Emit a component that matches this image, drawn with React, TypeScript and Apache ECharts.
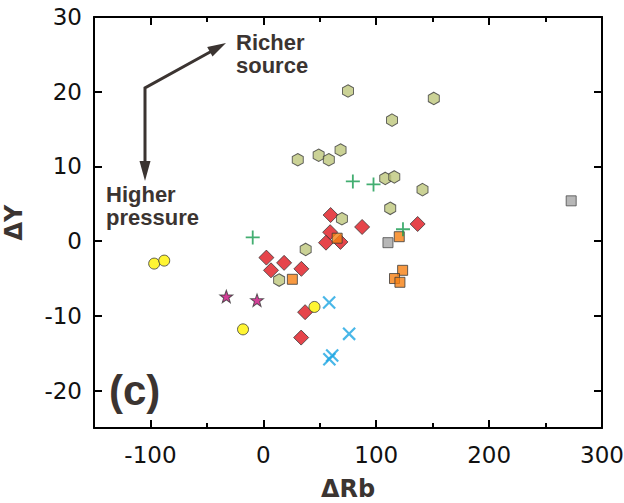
import React, { useEffect, useRef } from "react";
import * as echarts from "echarts";

// ---- data ----
const xTickValues = [-100, 0, 100, 200, 300];
const yTickValues = [-20, -10, 0, 10, 20, 30];

const hexagonPoints = [
  [75, 20.1], [151, 19.1], [114, 16.2], [30.5, 10.9], [49, 11.5], [58, 10.9],
  [68.4, 12.2], [108, 8.4], [116, 8.6], [141, 6.9], [112.4, 4.4], [69.6, 3.0],
  [37.5, -1.1], [14, -5.2],
];
const diamondPoints = [
  [59.6, 3.5], [87.5, 1.9], [59.2, 1.2], [55.5, -0.2], [68.3, -0.1], [136.7, 2.3],
  [2.7, -2.2], [18.4, -2.9], [6.8, -3.9], [33.7, -3.7], [37, -9.5], [33.5, -12.9],
];
const orangeSquarePoints = [
  [65.4, 0.4], [25.7, -5.1], [120.4, 0.6], [123.4, -3.9], [116.2, -5.0], [121, -5.5],
];
const graySquarePoints = [[110.4, -0.2], [272.7, 5.4]];
const yellowCirclePoints = [[-96.7, -3.0], [-87.8, -2.6], [-18, -11.8], [45.3, -8.8]];
const starPoints = [[-32.8, -7.4], [-5.6, -7.9]];
const plusPoints = [[-9.4, 0.5], [79.3, 8.0], [97.6, 7.6], [123.7, 1.6]];
const crossPoints = [[58.3, -8.2], [76, -12.4], [58.5, -15.8], [61, -15.3]];

const HEX = "path://M0,-10 L8.66,-5 L8.66,5 L0,10 L-8.66,5 L-8.66,-5 Z";
const STAR =
  "path://M0,-1 L0.235,-0.324 L0.951,-0.309 L0.38,0.124 L0.588,0.809 L0,0.4 L-0.588,0.809 L-0.38,0.124 L-0.951,-0.309 L-0.235,-0.324 Z";
const PLUS =
  "path://M-0.13,-1 H0.13 V-0.13 H1 V0.13 H0.13 V1 H-0.13 V0.13 H-1 V-0.13 H-0.13 Z";

const DARK = "#3b3431";
const EDGE = "#3a3a3a";
const NUM_FONT = "DejaVu Sans";

const ls = () => ({ color: "#000", width: 2 });

export default function App() {
  const ref = useRef<HTMLDivElement>(null);
  useEffect(() => {
    if (!ref.current) return;
    const chart = echarts.init(ref.current, undefined, { renderer: "svg" });
    const baseX = { type: "value", min: -150, max: 300, interval: 50, splitLine: { show: false }, gridIndex: 0 };
    const baseY = { type: "value", min: -25, max: 30, interval: 5, splitLine: { show: false }, gridIndex: 0 };
    const sc = (name: string, data: number[][], extra: any) => ({
      type: "scatter",
      name,
      data,
      xAxisIndex: 0,
      yAxisIndex: 0,
      ...extra,
    });
    chart.setOption({
      animation: false,
      backgroundColor: "#fff",
      grid: { left: 94, right: 22, top: 17, bottom: 75, containLabel: false, outerBoundsMode: "none" },
      xAxis: [
        {
          ...baseX,
          position: "bottom",
          axisLine: { show: true, onZero: false, lineStyle: ls() },
          axisTick: { show: true, inside: true, length: 5, lineStyle: ls() },
          axisLabel: {
            show: true,
            formatter: (v: number) => (v % 100 === 0 ? String(v) : ""),
            fontFamily: NUM_FONT,
            fontSize: 23,
            color: "#111",
            margin: 15,
          },
          name: "ΔRb",
          nameLocation: "middle",
          nameGap: 49,
          nameTextStyle: { fontFamily: "DejaVu Sans", fontWeight: "bold", fontSize: 24, color: DARK },
        },
        {
          ...baseX,
          position: "bottom",
          axisLine: { show: false, onZero: false },
          axisTick: { show: true, inside: true, length: 8, customValues: xTickValues, lineStyle: ls() },
          axisLabel: { show: false },
        },
        {
          ...baseX,
          position: "top",
          axisLine: { show: true, onZero: false, lineStyle: ls() },
          axisTick: { show: true, inside: true, length: 5, lineStyle: ls() },
          axisLabel: { show: false },
        },
        {
          ...baseX,
          position: "top",
          axisLine: { show: false, onZero: false },
          axisTick: { show: true, inside: true, length: 8, customValues: xTickValues, lineStyle: ls() },
          axisLabel: { show: false },
        },
      ],
      yAxis: [
        {
          ...baseY,
          position: "left",
          axisLine: { show: true, onZero: false, lineStyle: ls() },
          axisTick: { show: true, inside: true, length: 8, customValues: yTickValues, lineStyle: ls() },
          axisLabel: {
            show: true,
            customValues: yTickValues,
            fontFamily: NUM_FONT,
            fontSize: 23,
            color: "#111",
            margin: 12,
          },
          name: "ΔY",
          nameLocation: "middle",
          nameGap: 68,
          nameRotate: 90,
          nameTextStyle: { fontFamily: "DejaVu Sans", fontWeight: "bold", fontSize: 24, color: DARK },
        },
        {
          ...baseY,
          position: "right",
          axisLine: { show: true, onZero: false, lineStyle: ls() },
          axisTick: { show: true, inside: true, length: 8, customValues: yTickValues, lineStyle: ls() },
          axisLabel: { show: false },
        },
      ],
      series: [
        sc("diamond", diamondPoints, {
          symbol: "diamond",
          symbolSize: 15,
          itemStyle: { color: "#e0161e", borderColor: EDGE, borderWidth: 1 },
        }),
        sc("hexagon", hexagonPoints, {
          symbol: HEX,
          symbolSize: [11, 12.5],
          itemStyle: { color: "#bec77c", borderColor: EDGE, borderWidth: 1 },
        }),
        sc("gray square", graySquarePoints, {
          symbol: "rect",
          symbolSize: 10,
          itemStyle: { color: "#a5a5a5", borderColor: "#4a4a4a", borderWidth: 1 },
        }),
        sc("orange square", orangeSquarePoints, {
          symbol: "rect",
          symbolSize: 10,
          itemStyle: { color: "#f67f12", borderColor: EDGE, borderWidth: 1 },
        }),
        sc("yellow circle", yellowCirclePoints, {
          symbol: "circle",
          symbolSize: 11,
          itemStyle: { color: "#fff200", borderColor: EDGE, borderWidth: 1 },
        }),
        sc("star", starPoints, {
          symbol: STAR,
          symbolSize: [13, 12.5],
          itemStyle: { color: "#c80f7d", borderColor: EDGE, borderWidth: 1 },
        }),
        sc("plus", plusPoints, {
          symbol: PLUS,
          symbolSize: 14,
          itemStyle: { color: "#149a4e", borderWidth: 0 },
        }),
        sc("cross", crossPoints, {
          symbol: PLUS,
          symbolSize: 17,
          symbolRotate: 45,
          itemStyle: { color: "#1ba5e2", borderWidth: 0 },
        }),
      ],
      graphic: [
        {
          type: "polyline",
          shape: { points: [[145, 163], [145, 88], [211, 51.5]] },
          style: { stroke: DARK, lineWidth: 3, fill: null },
          z: 10,
        },
        {
          type: "polygon",
          shape: { points: [[145, 181], [139.5, 161], [150.5, 161]] },
          style: { fill: DARK },
          z: 10,
        },
        {
          type: "polygon",
          shape: { points: [[226, 43], [212.5, 56.5], [207.2, 46.9]] },
          style: { fill: DARK },
          z: 10,
        },
        {
          type: "text",
          left: 236,
          top: 31,
          style: {
            text: "Richer\nsource",
            fontFamily: "Liberation Sans",
            fontWeight: "bold",
            fontSize: 22,
            lineHeight: 23,
            fill: DARK,
          },
          z: 10,
        },
        {
          type: "text",
          left: 106,
          top: 183,
          style: {
            text: "Higher\npressure",
            fontFamily: "Liberation Sans",
            fontWeight: "bold",
            fontSize: 22,
            lineHeight: 23,
            fill: DARK,
          },
          z: 10,
        },
        {
          type: "text",
          left: 109,
          top: 369,
          style: {
            text: "(c)",
            fontFamily: "Liberation Sans",
            fontWeight: "bold",
            fontSize: 42,
            fill: DARK,
          },
          z: 10,
        },
      ],
    });
    return () => chart.dispose();
  }, []);
  return <div ref={ref} style={{ width: 624, height: 503, position: "absolute", left: 0, top: 0 }} />;
}
